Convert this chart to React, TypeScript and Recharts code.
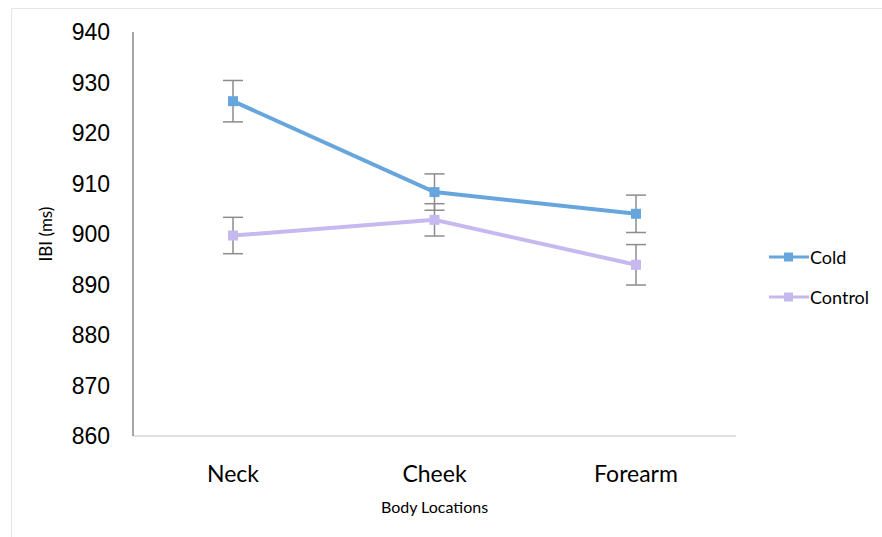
import { LineChart, Line, XAxis, YAxis, ErrorBar } from 'recharts'

const locations = ['Neck', 'Cheek', 'Forearm']
const coldIbi = [926.3, 908.3, 904.0]
const coldErr = [4.1, 3.6, 3.7]
const controlIbi = [899.7, 902.8, 893.9]
const controlErr = [3.6, 3.2, 4.0]
const yTicks = [860, 870, 880, 890, 900, 910, 920, 930, 940]

const COLD = '#67a6dc'
const CONTROL = '#c6b9f0'

const data = locations.map((loc, i) => ({
  loc,
  cold: coldIbi[i],
  coldErr: coldErr[i],
  control: controlIbi[i],
  controlErr: controlErr[i],
}))

const SquareDot = (color: string) => (props: any) => {
  const { cx, cy, index } = props
  if (cx == null || cy == null) return null
  return <rect key={index} x={cx - 5} y={cy - 5} width={10} height={10} fill={color} />
}

const legendItems = [
  { name: 'Cold', color: COLD },
  { name: 'Control', color: CONTROL },
]

export default function App() {
  return (
    <div
      style={{
        position: 'absolute', left: 0, top: 0, width: 882, height: 537,
        background: '#fff', overflow: 'hidden',
      }}
    >
      <div
        style={{
          position: 'absolute', left: 11, top: 8, width: 880, height: 540,
          border: '1px solid #e6e6e6', boxSizing: 'border-box',
        }}
      />
      <LineChart width={882} height={537} data={data} margin={{ top: 32, right: 146, bottom: 0, left: 0 }}>
        <XAxis
          dataKey="loc"
          height={101}
          padding={{ left: 100, right: 100 }}
          axisLine={{ stroke: '#d4d4d4', strokeWidth: 1.5 }}
          tickLine={false}
          tickSize={0}
          tickMargin={30}
          tick={{ fontFamily: 'Lato', fontSize: 23, fill: '#000' }}
          label={{
            value: 'Body Locations',
            position: 'insideBottom',
            offset: 24,
            style: { fontFamily: 'Lato', fontSize: 16, fill: '#000' },
          }}
        />
        <YAxis
          width={133}
          domain={[860, 940]}
          ticks={yTicks}
          interval={0}
          axisLine={{ stroke: '#8a8a8a', strokeWidth: 1.5 }}
          tickLine={false}
          tickSize={0}
          tickMargin={23}
          tick={{ fontFamily: 'Liberation Sans', fontSize: 23, fill: '#000' }}
          label={{
            content: ({ viewBox }: any) => {
              const cy = viewBox.y + viewBox.height / 2
              return (
                <text
                  x={45}
                  y={cy}
                  transform={`rotate(-90 45 ${cy})`}
                  textAnchor="middle"
                  dominantBaseline="central"
                  style={{ fontFamily: 'Lato', fontSize: 17, fill: '#000' }}
                >
                  IBI (ms)
                </text>
              )
            },
          }}
        />
        <Line
          dataKey="control"
          name="Control"
          stroke={CONTROL}
          strokeWidth={4}
          dot={SquareDot(CONTROL)}
          activeDot={false}
          isAnimationActive={false}
        >
          <ErrorBar dataKey="controlErr" width={10} stroke="#8c8c8c" strokeWidth={1.5} direction="y" />
        </Line>
        <Line
          dataKey="cold"
          name="Cold"
          stroke={COLD}
          strokeWidth={4}
          dot={SquareDot(COLD)}
          activeDot={false}
          isAnimationActive={false}
        >
          <ErrorBar dataKey="coldErr" width={10} stroke="#8c8c8c" strokeWidth={1.5} direction="y" />
        </Line>
      </LineChart>
      <div style={{ position: 'absolute', left: 769, top: 244, fontFamily: 'Lato', fontSize: 18, color: '#000' }}>
        {legendItems.map((item, i) => (
          <div key={item.name} style={{ display: 'flex', alignItems: 'center', height: 26, marginBottom: i === 0 ? 14 : 0 }}>
            <svg width={40} height={12} style={{ marginRight: 1 }}>
              <line x1={0} y1={6} x2={40} y2={6} stroke={item.color} strokeWidth={3} />
              <rect x={15} y={1.5} width={9} height={9} fill={item.color} />
            </svg>
            <span>{item.name}</span>
          </div>
        ))}
      </div>
    </div>
  )
}
